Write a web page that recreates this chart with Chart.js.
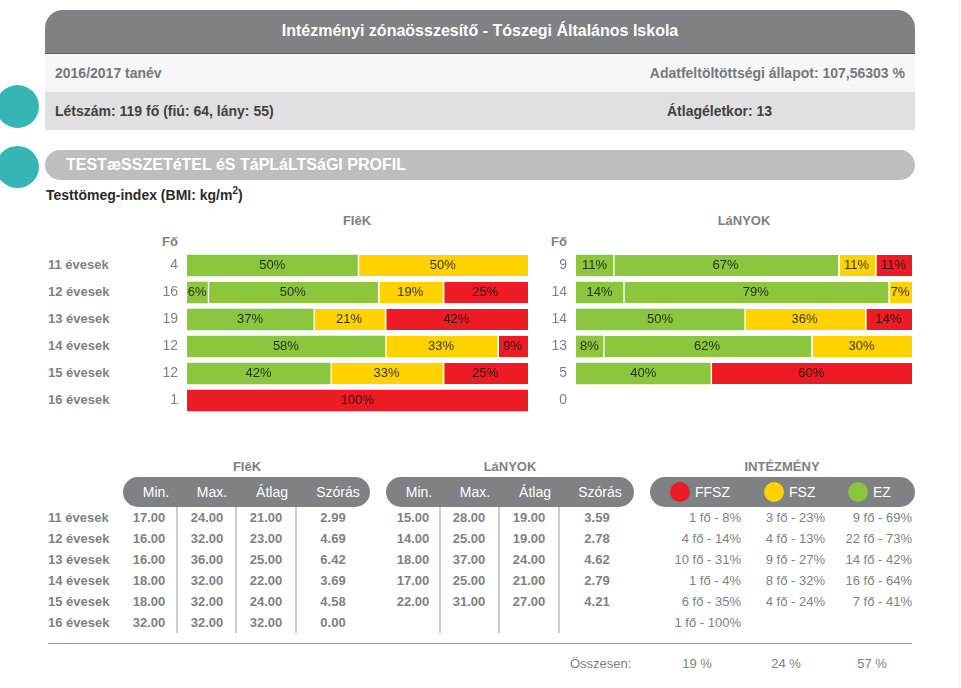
<!DOCTYPE html>
<html>
<head>
<meta charset="utf-8">
<title>Intézményi zónaösszesítő</title>
<script src="https://cdn.jsdelivr.net/npm/chart.js@4"></script>
<style>
  html, body { margin: 0; padding: 0; background: #fff; overflow: hidden; }
  body { width: 961px; height: 688px; position: relative; font-family: "Liberation Sans", Arial, sans-serif; color: #808184; }
  .box { position: absolute; }
  .t { position: absolute; white-space: nowrap; line-height: 16px; font-size: 13px; }
  .b { font-weight: bold; }
  canvas { position: absolute; }
</style>
</head>
<body>
<script>
// --- data ---
const AGES = ['11 évesek', '12 évesek', '13 évesek', '14 évesek', '15 évesek', '16 évesek'];
const BOYS_COUNT = [4, 16, 19, 12, 12, 1];
const GIRLS_COUNT = [9, 14, 14, 13, 5, 0];

// green is split in two parts in the picture, so two series
const BOYS_GREEN_A = [null, 6, null, null, null, null];
const BOYS_GREEN_B = [50, 50, 37, 58, 42, null];
const BOYS_YELLOW = [50, 19, 21, 33, 33, null];
const BOYS_RED = [null, 25, 42, 9, 25, 100];

const GIRLS_GREEN_A = [11, 14, null, 8, null, null];
const GIRLS_GREEN_B = [67, 79, 50, 62, 40, null];
const GIRLS_YELLOW = [11, 7, 36, 30, null, null];
const GIRLS_RED = [11, null, 14, null, 60, null];

const STAT_HEAD = ['Min.', 'Max.', 'Átlag', 'Szórás'];
const BOYS_MIN = ['17.00', '16.00', '16.00', '18.00', '18.00', '32.00'];
const BOYS_MAX = ['24.00', '32.00', '36.00', '32.00', '32.00', '32.00'];
const BOYS_AVG = ['21.00', '23.00', '25.00', '22.00', '24.00', '32.00'];
const BOYS_SD = ['2.99', '4.69', '6.42', '3.69', '4.58', '0.00'];
const GIRLS_MIN = ['15.00', '14.00', '18.00', '17.00', '22.00'];
const GIRLS_MAX = ['28.00', '25.00', '37.00', '25.00', '31.00'];
const GIRLS_AVG = ['19.00', '19.00', '24.00', '21.00', '27.00'];
const GIRLS_SD = ['3.59', '2.78', '4.62', '2.79', '4.21'];

const INST_FFSZ = ['1 fő - 8%', '4 fő - 14%', '10 fő - 31%', '1 fő - 4%', '6 fő - 35%', '1 fő - 100%'];
const INST_FSZ = ['3 fő - 23%', '4 fő - 13%', '9 fő - 27%', '8 fő - 32%', '4 fő - 24%'];
const INST_EZ = ['9 fő - 69%', '22 fő - 73%', '14 fő - 42%', '16 fő - 64%', '7 fő - 41%'];
const TOTALS = ['19 %', '24 %', '57 %'];

const GREEN = '#8cc63f', YELLOW = '#ffd200', RED = '#ed1c24';
const GREY = '#808184', TEAL = '#37b5b5';

// --- plain page helpers ---
function box(x, y, w, h, style) {
  const d = document.createElement('div');
  d.className = 'box';
  d.style.cssText = `left:${x}px;top:${y}px;width:${w}px;height:${h}px;${style}`;
  document.body.appendChild(d);
}

// align: l = x is left edge, c = centre, r = right edge
function text(x, cy, str, align, style, bold) {
  const d = document.createElement('div');
  d.className = 't' + (bold ? ' b' : '');
  const tr = align === 'c' ? 'translateX(-50%)' : align === 'r' ? 'translateX(-100%)' : 'none';
  d.style.cssText = `left:${x}px;top:${cy - 8}px;transform:${tr};${style || ''}`;
  d.innerHTML = str;
  document.body.appendChild(d);
}

// header blocks
box(45, 10, 870, 43, `background:${GREY};border-radius:18px 18px 0 0;`);
box(45, 53, 870, 1, 'background:#5e5f61;');
box(45, 54, 870, 38, 'background:#f6f7f9;');
box(45, 92, 870, 38, 'background:#e0e0e0;');
box(45, 150, 870, 30, 'background:#bebebe;border-radius:15px;');
box(-4, 85, 43, 43, `background:${TEAL};border-radius:50%;`);
box(-4, 146, 43, 42, `background:${TEAL};border-radius:50%;`);
box(959, 0, 1, 688, 'background:#eeeeee;');

text(480, 31, 'Intézményi zónaösszesítő - Tószegi Általános Iskola', 'c', 'color:#fff;font-size:16px;', true);
text(55, 73, '2016/2017 tanév', 'l', 'font-size:14px;color:#77787b;', true);
text(905, 73, 'Adatfeltöltöttségi állapot: 107,56303 %', 'r', 'font-size:14px;color:#77787b;', true);
text(55, 111, 'Létszám: 119 fő (fiú: 64, lány: 55)', 'l', 'font-size:14px;color:#414042;', true);
text(667, 111, 'Átlagéletkor: 13', 'l', 'font-size:14px;color:#414042;', true);
text(66, 165, 'TESTæSSZETéTEL éS TáPLáLTSáGI PROFIL', 'l', 'color:#fff;font-size:16px;', true);
text(46, 195, 'Testtömeg-index (BMI: kg/m<sup style="font-size:10px;line-height:0">2</sup>)', 'l', 'color:#2b2b2d;font-size:14px;', true);

text(357, 221, 'FIêK', 'c', '', true);
text(744, 221, 'LáNYOK', 'c', '', true);
text(170, 242, 'Fő', 'c', 'font-size:13px;', true);
text(559, 242, 'Fő', 'c', 'font-size:13px;', true);

AGES.forEach((age, i) => text(48, 265 + i * 27, age, 'l', '', true));

// --- stacked bars ---
const segmentLabels = {
  id: 'segmentLabels',
  afterDatasetsDraw(chart) {
    const ctx = chart.ctx;
    ctx.save();
    ctx.font = '13px "Liberation Sans", Arial, sans-serif';
    ctx.fillStyle = 'rgba(20,20,20,0.85)';
    ctx.textAlign = 'center';
    ctx.textBaseline = 'middle';
    chart.data.datasets.forEach((ds, d) => {
      chart.getDatasetMeta(d).data.forEach((bar, i) => {
        if (ds.data[i] == null) return;
        ctx.fillText(ds.data[i] + '%', (bar.x + bar.base) / 2, bar.y);
      });
    });
    ctx.restore();
  }
};

// the y axis reserves tick padding + half a label above and below (9 + 8),
// so the canvas is 17px bigger each way to keep a 27px row pitch
function renderBars(left, width, yWidth, counts, series) {
  const canvas = document.createElement('canvas');
  canvas.width = width;
  canvas.height = 196;
  canvas.style.cssText = `left:${left}px;top:235px;width:${width}px;height:196px;`;
  document.body.appendChild(canvas);

  const colors = [GREEN, GREEN, YELLOW, RED];
  // white divider on every segment that has another one before it
  const divider = c => {
    const before = series.slice(0, c.datasetIndex).some(s => s[c.dataIndex] != null);
    return { left: before ? 2 : 0, right: 0, top: 0, bottom: 0 };
  };

  return new Chart(canvas.getContext('2d'), {
    type: 'bar',
    data: {
      labels: AGES,
      datasets: series.map((data, i) => ({
        data,
        backgroundColor: colors[i],
        borderColor: '#fff',
        borderWidth: divider,
        borderSkipped: false,
        barThickness: 21,
      })),
    },
    options: {
      indexAxis: 'y',
      responsive: false,
      animation: false,
      layout: { padding: 0 },
      scales: {
        x: { stacked: true, display: false, min: 0, max: 100 },
        y: {
          stacked: true,
          border: { display: false },
          grid: { display: false, drawTicks: false },
          afterFit: s => { s.width = yWidth; },
          ticks: {
            padding: 9,
            color: GREY,
            font: { size: 14, lineHeight: '16px', family: '"Liberation Sans", Arial, sans-serif' },
            callback: (v, i) => String(counts[i]),
          },
        },
      },
      plugins: { legend: { display: false }, tooltip: { enabled: false } },
    },
    plugins: [segmentLabels],
  });
}

renderBars(150, 378, 37, BOYS_COUNT, [BOYS_GREEN_A, BOYS_GREEN_B, BOYS_YELLOW, BOYS_RED]);
renderBars(540, 372, 36, GIRLS_COUNT, [GIRLS_GREEN_A, GIRLS_GREEN_B, GIRLS_YELLOW, GIRLS_RED]);

// --- tables below the bars ---
const ROW_Y = i => 518 + i * 21;

text(247, 467, 'FIêK', 'c', '', true);
text(510, 467, 'LáNYOK', 'c', '', true);
text(782, 467, 'INTÉZMÉNY', 'c', '', true);

box(123, 477, 247, 30, `background:${GREY};border-radius:15px;`);
box(386, 477, 248, 30, `background:${GREY};border-radius:15px;`);
box(650, 477, 265, 30, `background:${GREY};border-radius:15px;`);

[156, 212, 272, 338].forEach((x, i) => text(x, 492, STAT_HEAD[i], 'c', 'color:#fff;font-size:14px;'));
[419, 475, 535, 600].forEach((x, i) => text(x, 492, STAT_HEAD[i], 'c', 'color:#fff;font-size:14px;'));

[176, 235, 295, 439, 498, 558].forEach(x => box(x, 507, 2, 126, 'background:#cccccc;'));

[BOYS_MIN, BOYS_MAX, BOYS_AVG, BOYS_SD].forEach((col, c) => {
  col.forEach((v, i) => text([149, 207, 266, 333][c], ROW_Y(i), v, 'c', '', true));
});
[GIRLS_MIN, GIRLS_MAX, GIRLS_AVG, GIRLS_SD].forEach((col, c) => {
  col.forEach((v, i) => text([413, 469, 529, 597][c], ROW_Y(i), v, 'c', '', true));
});
AGES.forEach((age, i) => text(48, ROW_Y(i), age, 'l', '', true));

box(670, 482, 20, 20, `background:${RED};border-radius:50%;`);
box(764, 482, 20, 20, `background:${YELLOW};border-radius:50%;`);
box(848, 482, 20, 20, `background:${GREEN};border-radius:50%;`);
text(695, 492, 'FFSZ', 'l', 'color:#fff;font-size:14px;');
text(789, 492, 'FSZ', 'l', 'color:#fff;font-size:14px;');
text(873, 492, 'EZ', 'l', 'color:#fff;font-size:14px;');

INST_FFSZ.forEach((v, i) => text(741, ROW_Y(i), v, 'r'));
INST_FSZ.forEach((v, i) => text(825, ROW_Y(i), v, 'r'));
INST_EZ.forEach((v, i) => text(912, ROW_Y(i), v, 'r'));

box(48, 643, 864, 1, 'background:#9a9a9a;');
text(570, 664, 'Összesen:', 'l');
[697, 786, 872].forEach((x, i) => text(x, 664, TOTALS[i], 'c'));
</script>
</body>
</html>
